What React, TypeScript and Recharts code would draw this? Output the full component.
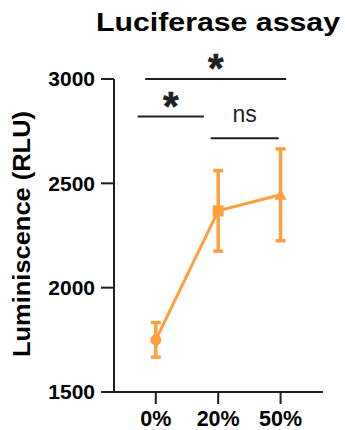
import React from 'react';
import {
  Customized,
  ErrorBar,
  Line,
  LineChart,
  ReferenceLine,
  XAxis,
  YAxis,
} from 'recharts';

const groups = ['0%', '20%', '50%'];
const means = [1750, 2368, 2445];
const sems = [83, 193, 220];
const markers = ['circle', 'square', 'triangle'];
const yTicks = [1500, 2000, 2500, 3000];

// significance brackets: [from, to] in group index units, height in RLU
const bracketFrom = [-0.17, -0.29, 0.88];
const bracketTo = [2.09, 0.77, 1.97];
const bracketY = [3000, 2820, 2716];
const bracketText = ['*', '*', 'ns'];

const ORANGE = '#FFA040';
const INK = '#1e1e1e';
const FONT = '"Liberation Sans", Arial, Helvetica, sans-serif';

const data = groups.map((g, i) => ({
  x: i,
  group: g,
  mean: means[i],
  sem: sems[i],
}));

const Marker = (props: any) => {
  const { cx, cy, index } = props;
  if (cx == null || cy == null) return null;
  const kind = markers[index];
  if (kind === 'square') {
    return <rect key={index} x={cx - 5.5} y={cy - 5.5} width={11} height={11} fill={ORANGE} />;
  }
  if (kind === 'triangle') {
    return (
      <polygon
        key={index}
        points={`${cx},${cy - 6} ${cx + 6},${cy + 5} ${cx - 6},${cy + 5}`}
        fill={ORANGE}
      />
    );
  }
  return <circle key={index} cx={cx} cy={cy} r={5.5} fill={ORANGE} />;
};

const bracketLabel = (text: string) => (props: any) => {
  const { viewBox } = props;
  const cx = viewBox.x + viewBox.width / 2;
  if (text === '*') {
    return (
      <text
        x={cx}
        y={viewBox.y + 3}
        textAnchor="middle"
        fontFamily={FONT}
        fontWeight="bold"
        fontSize={40}
        stroke={INK}
        strokeWidth={0.6}
        fill={INK}
      >
        *
      </text>
    );
  }
  return (
    <text x={cx} y={viewBox.y - 16} textAnchor="middle" fontFamily={FONT} fontSize={23} fill={INK}>
      {text}
    </text>
  );
};

const Titles = () => (
  <g>
    <text
      x={218}
      y={31}
      textAnchor="middle"
      fontFamily={FONT}
      fontWeight="bold"
      fontSize={26}
      textLength={244}
      lengthAdjust="spacingAndGlyphs"
      fill="#000"
    >
      Luciferase assay
    </text>
    <text
      transform="translate(30, 234) rotate(-90)"
      textAnchor="middle"
      fontFamily={FONT}
      fontWeight="bold"
      fontSize={24}
      textLength={246}
      lengthAdjust="spacingAndGlyphs"
      fill="#000"
    >
      Luminiscence (RLU)
    </text>
  </g>
);

export default function App() {
  return (
    <div style={{ position: 'absolute', left: 0, top: 0, background: '#fff' }}>
      <LineChart
        width={345}
        height={430}
        data={data}
        margin={{ top: 79, right: 22, bottom: 0, left: 0 }}
      >
        <XAxis
          dataKey="x"
          type="number"
          domain={[-0.67, 2.68]}
          ticks={[0, 1, 2]}
          tickFormatter={(v: number) => groups[v] ?? ''}
          height={38}
          tickSize={12}
          tickMargin={7}
          axisLine={{ stroke: INK, strokeWidth: 2 }}
          tickLine={{ stroke: INK, strokeWidth: 2 }}
          tick={{ fill: '#000', fontSize: 21.5, fontWeight: 'bold', fontFamily: FONT }}
          allowDataOverflow
        />
        <YAxis
          type="number"
          domain={[1500, 3000]}
          ticks={yTicks}
          width={114}
          tickSize={13}
          tickMargin={6}
          axisLine={{ stroke: INK, strokeWidth: 2 }}
          tickLine={{ stroke: INK, strokeWidth: 2 }}
          tick={{ fill: '#000', fontSize: 21, fontWeight: 'bold', fontFamily: FONT }}
          allowDataOverflow
        />
        {bracketText.map((t, i) => (
          <ReferenceLine
            key={i}
            segment={[
              { x: bracketFrom[i], y: bracketY[i] },
              { x: bracketTo[i], y: bracketY[i] },
            ]}
            stroke={INK}
            strokeWidth={2}
            ifOverflow="visible"
            label={bracketLabel(t)}
          />
        ))}
        <Line
          dataKey="mean"
          stroke={ORANGE}
          strokeWidth={3}
          dot={Marker}
          activeDot={false}
          isAnimationActive={false}
        >
          <ErrorBar dataKey="sem" direction="y" width={5} stroke={ORANGE} strokeWidth={3.5} />
        </Line>
        <Customized component={Titles} />
      </LineChart>
    </div>
  );
}
